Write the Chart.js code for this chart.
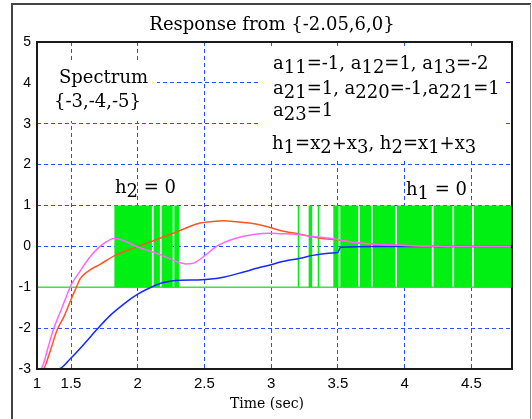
<!DOCTYPE html>
<html><head><meta charset="utf-8">
<script src="https://cdn.jsdelivr.net/npm/chart.js@4/dist/chart.umd.min.js"></script>
<style>html,body{margin:0;padding:0;background:#fff}canvas{display:block}</style>
</head><body>
<canvas id="c" width="532" height="419"></canvas>
<script>
// ---- axis ranges and ticks ----
const xMin = 1.245, xMax = 4.805, yMin = -3, yMax = 5;
const xTickVals = [1.245, 1.5, 2, 2.5, 3, 3.5, 4, 4.5];
const xTickLabels = ['1', '1.5', '2', '2.5', '3', '3.5', '4', '4.5'];
const yTickVals = [-3, -2, -1, 0, 1, 2, 3, 4, 5];

// ---- series ----
const blueX = [1.245, 1.405, 1.5, 1.6, 1.695, 1.79, 1.9, 2.0, 2.1, 2.2, 2.32, 2.45, 2.55, 2.65, 2.8, 2.9, 3.0, 3.07, 3.22, 3.31, 3.46, 3.5, 3.52, 3.8, 4.2, 4.805];
const blueY = [-3, -3, -2.73, -2.38, -2.03, -1.7, -1.4, -1.17, -1.0, -0.88, -0.83, -0.82, -0.8, -0.75, -0.62, -0.53, -0.45, -0.38, -0.29, -0.22, -0.16, -0.15, -0.02, 0.0, 0.0, 0.0];

const orangeX = [1.245, 1.29, 1.34, 1.395, 1.45, 1.5, 1.54, 1.567, 1.6, 1.64, 1.717, 1.83, 1.92, 2.0, 2.167, 2.317, 2.467, 2.564, 2.64, 2.714, 2.864, 2.95, 3.067, 3.217, 3.366, 3.5, 3.666, 3.816, 3.966, 4.15, 4.316, 4.805];
const orangeY = [-3, -3, -2.6, -2.05, -1.7, -1.3, -1.0, -0.8, -0.68, -0.58, -0.44, -0.22, -0.1, 0.0, 0.2, 0.39, 0.57, 0.61, 0.625, 0.61, 0.56, 0.5, 0.39, 0.3, 0.2, 0.16, 0.08, 0.045, 0.025, 0.01, 0.0, 0.0];

const pinkX = [1.245, 1.27, 1.29, 1.33, 1.367, 1.42, 1.468, 1.5, 1.567, 1.642, 1.717, 1.79, 1.83, 2.0, 2.167, 2.317, 2.36, 2.417, 2.49, 2.59, 2.717, 2.867, 2.99, 3.067, 3.16, 3.29, 3.44, 3.5, 3.666, 3.816, 3.966, 4.15, 4.316, 4.805];
const pinkY = [-3, -3, -2.9, -2.45, -2.04, -1.6, -1.2, -0.95, -0.61, -0.26, 0.0, 0.16, 0.19, -0.015, -0.2, -0.4, -0.43, -0.41, -0.26, 0.0, 0.18, 0.29, 0.32, 0.31, 0.3, 0.25, 0.2, 0.165, 0.08, 0.045, 0.025, 0.01, 0.0, 0.0];

// control signal: level (+1 / -1) held from each switch time
const greenX = [1.245, 1.825, 2.106, 2.119, 2.166, 2.179, 2.262, 2.274, 2.31, 3.199, 3.21, 3.281, 3.307, 3.349, 3.36, 3.466, 3.505, 3.518, 3.652, 3.665, 3.748, 3.761, 3.93, 3.943, 4.204, 4.217, 4.358, 4.371, 4.505, 4.518, 4.805];
const greenY = [-1, 1, -1, 1, -1, 1, -1, 1, -1, 1, -1, 1, -1, 1, -1, 1, -1, 1, -1, 1, -1, 1, -1, 1, -1, 1, -1, 1, -1, 1, 1];

// ---- texts ----
const titleText = 'Response from {-2.05,6,0}';
const xAxisTitle = 'Time (sec)';
const spectrumLines = ['Spectrum', '{-3,-4,-5}'];
const paramLines = ['a_{11}=-1, a_{12}=1, a_{13}=-2', 'a_{21}=1, a_{220}=-1,a_{221}=1', 'a_{23}=1'];
const hLine = 'h_{1}=x_{2}+x_{3}, h_{2}=x_{1}+x_{3}';
const h2Label = 'h_{2} = 0';
const h1Label = 'h_{1} = 0';

const pts = (xs, ys) => xs.map((x, i) => ({x: x, y: ys[i]}));
const gridBlue = '#2a4dff';
const SERIF = '"DejaVu Serif", serif';

function drawRich(ctx, str, x, y, size) {
  const parts = []; const re = /_\{([^}]*)\}/g; let last = 0, m;
  while ((m = re.exec(str))) {
    if (m.index > last) parts.push([str.slice(last, m.index), 0]);
    parts.push([m[1], 1]); last = re.lastIndex;
  }
  if (last < str.length) parts.push([str.slice(last), 0]);
  let cx = x;
  ctx.textAlign = 'left'; ctx.textBaseline = 'alphabetic';
  ctx.font = size + 'px ' + SERIF;
  for (const [t, sub] of parts) {
    ctx.fillText(t, cx, y + (sub ? 3.5 : 0));
    cx += ctx.measureText(t).width;
  }
}

const decor = {
  id: 'decor',
  beforeDraw(chart) {
    const ctx = chart.ctx;
    ctx.save();
    ctx.fillStyle = '#fff'; ctx.fillRect(0, 0, chart.width, chart.height);
    ctx.strokeStyle = '#444'; ctx.lineWidth = 2;
    ctx.beginPath(); ctx.moveTo(12, 419); ctx.lineTo(12, 4); ctx.lineTo(531, 4); ctx.stroke();
    ctx.strokeStyle = '#8c8c8c'; ctx.lineWidth = 1;
    ctx.beginPath(); ctx.moveTo(530.5, 4); ctx.lineTo(530.5, 419); ctx.stroke();
    ctx.restore();
  },
  beforeDatasetsDraw(chart) {
    const ctx = chart.ctx;
    ctx.save(); ctx.fillStyle = '#fff';
    ctx.fillRect(38, 61, 119, 60);
    ctx.fillRect(261, 48, 244, 113);
    ctx.restore();
  },
  afterDatasetsDraw(chart) {
    const ctx = chart.ctx, a = chart.chartArea;
    ctx.save();
    ctx.strokeStyle = '#1a1a1a'; ctx.lineWidth = 2;
    ctx.strokeRect(a.left, a.top, a.right - a.left, a.bottom - a.top);
    ctx.restore();
  },
  afterDraw(chart) {
    const ctx = chart.ctx;
    ctx.save(); ctx.fillStyle = '#000';
    ctx.font = '18px ' + SERIF; ctx.textAlign = 'center'; ctx.textBaseline = 'alphabetic';
    ctx.fillText(titleText, 272, 30);
    ctx.font = '14px ' + SERIF;
    ctx.fillText(xAxisTitle, 267, 408);
    drawRich(ctx, spectrumLines[0], 59, 83, 18);
    drawRich(ctx, spectrumLines[1], 54, 107, 18);
    drawRich(ctx, paramLines[0], 273, 69, 18);
    drawRich(ctx, paramLines[1], 273, 94, 18);
    drawRich(ctx, paramLines[2], 273, 116, 18);
    drawRich(ctx, hLine, 272, 149, 18);
    drawRich(ctx, h2Label, 115, 193, 18);
    drawRich(ctx, h1Label, 406, 195, 18);
    ctx.restore();
  }
};

const lineDs = (data, color) => ({
  type: 'line', data: data, borderColor: color, borderWidth: 1.5, pointRadius: 0,
  fill: false, cubicInterpolationMode: 'monotone'
});

new Chart(document.getElementById('c'), {
  type: 'line',
  data: {
    datasets: [
      lineDs(pts(pinkX, pinkY), '#ff66ff'),
      lineDs(pts(orangeX, orangeY), '#ff5522'),
      lineDs(pts(blueX, blueY), '#1428ff'),
      { type: 'line', data: pts(greenX, greenY), stepped: true, fill: {value: -1},
        backgroundColor: '#00f014', borderColor: 'rgba(0,0,0,0)', borderWidth: 0, pointRadius: 0 },
      { type: 'line', data: [{x: xMin, y: -1}, {x: xMax, y: -1}], borderColor: '#3be63b',
        borderWidth: 1.5, pointRadius: 0, fill: false }
    ]
  },
  options: {
    responsive: false, animation: false, events: [],
    layout: {padding: {left: 0, top: 42, right: 20, bottom: 0}},
    plugins: {legend: {display: false}, tooltip: {enabled: false}, title: {display: false}},
    scales: {
      x: {
        type: 'linear', min: xMin, max: xMax,
        afterBuildTicks: s => { s.ticks = xTickVals.map(v => ({value: v})); },
        afterFit: s => { s.height = 50; },
        ticks: {callback: (v, i) => xTickLabels[i], font: {family: 'Liberation Sans', size: 15},
                color: '#000', padding: 6, maxRotation: 0, autoSkip: false},
        grid: {color: c => (c.tick && c.tick.value === xMin) ? 'rgba(0,0,0,0)' : gridBlue,
               lineWidth: 1, drawTicks: false},
        border: {display: false, dash: [4, 3]}
      },
      y: {
        type: 'linear', min: yMin, max: yMax,
        afterBuildTicks: s => { s.ticks = yTickVals.map(v => ({value: v})); },
        afterFit: s => { s.width = 37; },
        ticks: {callback: v => String(v), font: {family: 'Liberation Sans', size: 14},
                color: '#000', padding: 6},
        grid: {color: c => (c.tick && (c.tick.value === yMin || c.tick.value === yMax)) ? 'rgba(0,0,0,0)' : gridBlue,
               lineWidth: 1, drawTicks: false},
        border: {display: false, dash: [4, 3]}
      }
    }
  },
  plugins: [decor]
});
</script>
</body></html>
